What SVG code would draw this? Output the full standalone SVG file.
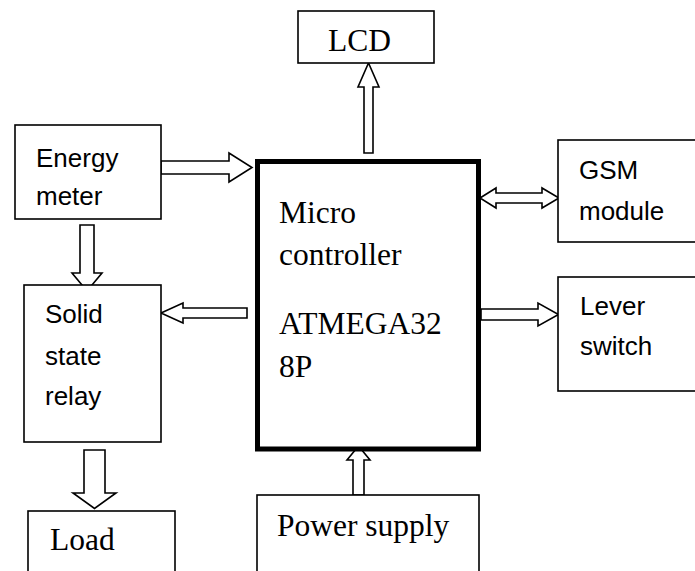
<svg xmlns="http://www.w3.org/2000/svg" width="695" height="571" viewBox="0 0 695 571">
  <style>
    .box { fill: #fff; stroke: #000; stroke-width: 1.6; }
    .mcu { fill: #fff; stroke: #000; stroke-width: 5; }
    .arr { fill: #fff; stroke: #000; stroke-width: 1.6; stroke-linejoin: miter; }
    .serif { font-family: "Liberation Serif", "Times New Roman", serif; font-size: 31.5px; fill: #000; }
    .sans { font-family: "Liberation Sans", Arial, sans-serif; font-size: 26px; fill: #000; }
  </style>
  <rect width="695" height="571" fill="#fff"/>

  <g id="connectors">
    <polygon class="arr" points="364,153 364,87 358,87 368.5,63 379,87 373,87 373,153"/>
    <polygon class="arr" points="161,161 229,161 229,153 252,167.5 229,182 229,174 161,174"/>
    <polygon class="arr" points="80,225 94,225 94,273 102,273 87,291 72,273 80,273"/>
    <polygon class="arr" points="247,308 247,318 183,318 183,323 161,313 183,303 183,308"/>
    <polygon class="arr" points="84,450 105,450 105,493 116,493 94.5,508.5 73,493 84,493"/>
    <polygon class="arr" points="353,495 353,460 347,460 358.5,446 370,460 364,460 364,495"/>
    <polygon class="arr" points="480,198 496,188 496,193 542,193 542,188 559,198 542,208 542,203 496,203 496,208"/>
    <polygon class="arr" points="481,309 538,309 538,303 558.5,314.5 538,326 538,320 481,320"/>
  </g>

  <g id="lcd">
    <rect class="box" x="298" y="11" width="136" height="52"/>
    <text class="serif" x="328" y="51">LCD</text>
  </g>

  <g id="energy-meter">
    <rect class="box" x="15" y="125" width="146" height="94"/>
    <text class="sans" x="36" y="167">Energy</text>
    <text class="sans" x="36" y="205">meter</text>
  </g>

  <g id="microcontroller">
    <rect class="mcu" x="257.5" y="161.5" width="221" height="287.5"/>
    <text class="serif" x="279" y="223">Micro</text>
    <text class="serif" x="279" y="265">controller</text>
    <text class="serif" x="279" y="334">ATMEGA32</text>
    <text class="serif" x="279" y="377">8P</text>
  </g>

  <g id="gsm-module">
    <rect class="box" x="558" y="140" width="145" height="102"/>
    <text class="sans" x="579" y="179">GSM</text>
    <text class="sans" x="579" y="220">module</text>
  </g>

  <g id="lever-switch">
    <rect class="box" x="558" y="277" width="145" height="114"/>
    <text class="sans" x="580" y="315">Lever</text>
    <text class="sans" x="580" y="355">switch</text>
  </g>

  <g id="solid-state-relay">
    <rect class="box" x="24" y="285" width="137" height="157"/>
    <text class="sans" x="45" y="323">Solid</text>
    <text class="sans" x="45" y="365">state</text>
    <text class="sans" x="45" y="405">relay</text>
  </g>

  <g id="load">
    <rect class="box" x="28" y="511" width="147" height="70"/>
    <text class="serif" x="50" y="550">Load</text>
  </g>

  <g id="power-supply">
    <rect class="box" x="257" y="495" width="222" height="86"/>
    <text class="serif" x="277" y="536">Power supply</text>
  </g>
</svg>
